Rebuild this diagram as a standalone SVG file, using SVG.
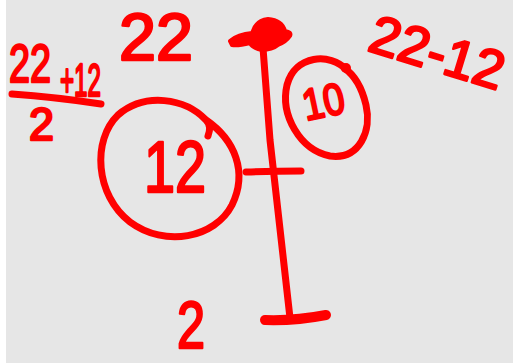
<svg xmlns="http://www.w3.org/2000/svg" width="513" height="363" viewBox="0 0 513 363">
<style>
.ink{fill:none;stroke:#ff0000;stroke-width:7;stroke-linecap:round;stroke-linejoin:round}
.t{font-family:"Liberation Sans",Arial,sans-serif;fill:#ff0000;stroke:#ff0000;stroke-width:2.5;stroke-linejoin:round}
</style>
<rect x="0" y="0" width="513" height="363" fill="#ffffff"/>
<rect x="6" y="0" width="507" height="363" fill="#e6e6e6"/>
<g id="label-22-top"><text class="t" x="119" y="60" font-size="66" textLength="74" lengthAdjust="spacingAndGlyphs">22</text></g>
<g id="label-fraction">
<text class="t" x="9" y="82" font-size="54" textLength="42" lengthAdjust="spacingAndGlyphs">22</text>
<text class="t" x="60" y="96" font-size="46" textLength="41" lengthAdjust="spacingAndGlyphs">+12</text>
<path class="ink" d="M12 94 Q55 97 101 104"/>
<text class="t" x="29" y="140" font-size="46" textLength="25" lengthAdjust="spacingAndGlyphs">2</text>
</g>
<g id="label-22-12"><text class="t" x="366" y="50" font-size="54" transform="rotate(17 366 50)" textLength="138" lengthAdjust="spacingAndGlyphs">22-12</text></g>
<g id="node-12">
<path class="ink" d="M208 136 Q212 126 206 120 C185 98 145 92 118 115 C92 140 95 195 130 222 C165 248 215 238 232 205 C248 172 235 140 206 120"/>
<text class="t" x="144" y="192" font-size="72" textLength="62" lengthAdjust="spacingAndGlyphs">12</text>
</g>
<g id="node-10">
<path class="ink" d="M347 70 C330 52 295 55 287 85 C280 115 300 150 330 156 C360 160 372 130 366 105 C362 88 356 76 344 68"/>
<circle cx="346" cy="68" r="5" fill="#ff0000"/>
<text class="t" x="302" y="117" font-size="44" transform="rotate(-12 322 100)" textLength="42" lengthAdjust="spacingAndGlyphs">10</text>
</g>
<g id="node-2"><text class="t" x="177" y="348" font-size="66" textLength="28" lengthAdjust="spacingAndGlyphs">2</text></g>
<g id="connectors">
<path d="M230 41 Q238 34 252 33 Q256 20 268 19 Q282 20 285 31 Q292 32 290 36 Q286 42 278 45 Q272 50 262 50 Q252 48 250 43 Q238 46 232 45 Z" fill="#ff0000" stroke="#ff0000" stroke-width="4" stroke-linejoin="round"/>
<path class="ink" d="M263 48 L270 140 L290 318"/>
<path class="ink" d="M246 172 Q275 171 301 171"/>
<path d="M265 320 Q295 321 326 315" fill="none" stroke="#ff0000" stroke-width="10" stroke-linecap="round"/>
</g>
</svg>
